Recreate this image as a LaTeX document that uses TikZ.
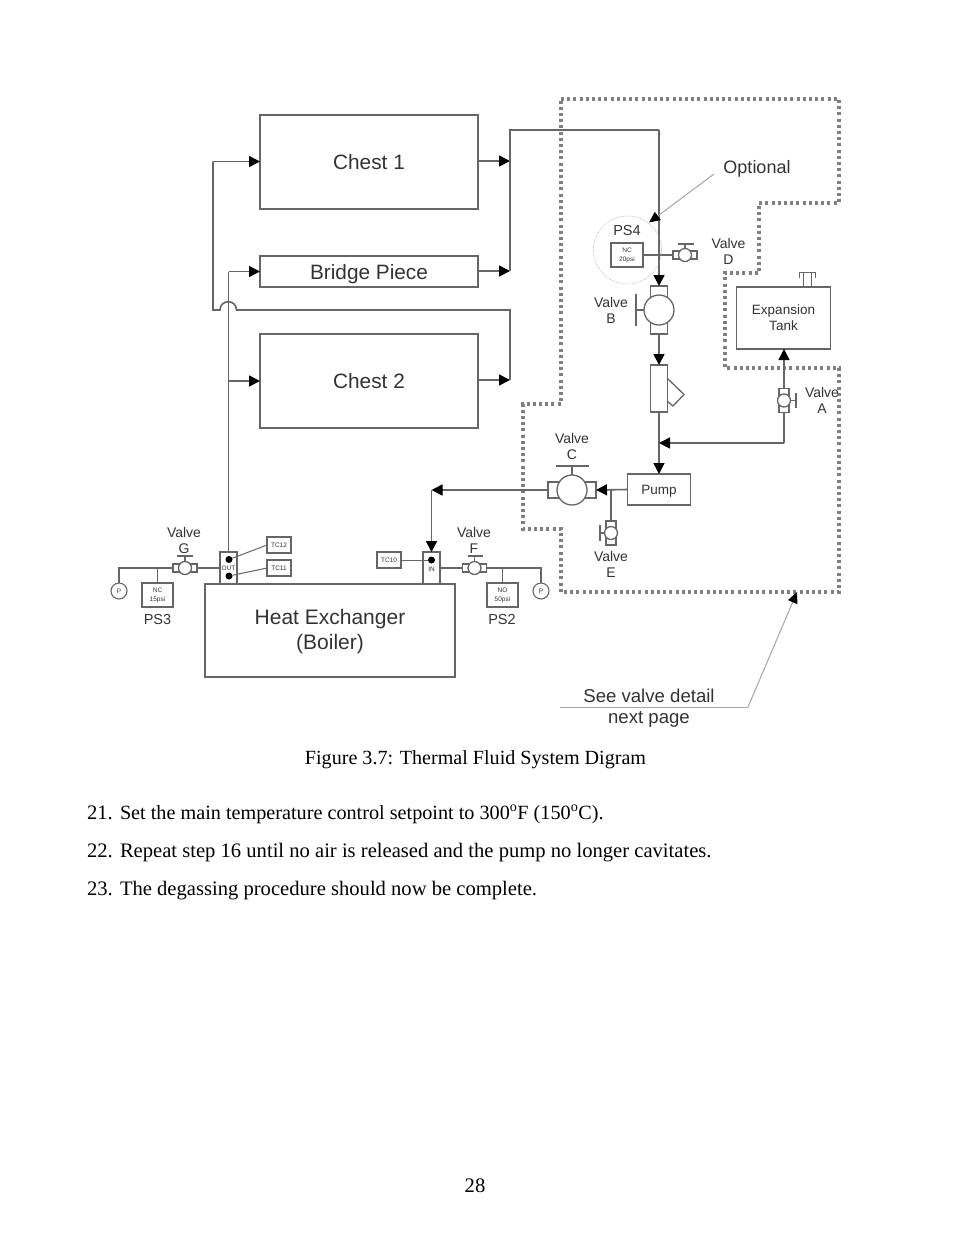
\documentclass[tikz,border=0pt]{standalone}
\usepackage{fontspec}
\setmainfont{Liberation Serif}
\newfontfamily\dgm{Liberation Sans}
\usetikzlibrary{arrows.meta}
\definecolor{ln}{HTML}{666666}
\definecolor{tx}{HTML}{333333}
\definecolor{dots}{HTML}{808080}
\newcommand{\fsz}[2]{\fontsize{#1}{#2}\selectfont}
\tikzset{
  x=1pt,y=-1pt,
  every node/.style={inner sep=0pt,outer sep=0pt},
  pipe/.style={draw=ln,line width=1.6pt},
  arr/.style={pipe,-{Triangle[length=11pt,width=11pt,fill=black,color=black]}},
  note/.style={draw=gray!70,line width=1pt},
  narr/.style={note,-{Triangle[length=11pt,width=10pt,fill=black,color=black]}},
  blk/.style={draw=ln,line width=1.3pt,fill=white,text=tx,font=\dgm},
  big/.style={blk,font=\dgm\fsz{20.8}{25},align=center},
  lbl/.style={text=tx,font=\dgm\fsz{14}{16},align=center},
  tiny/.style={blk,font=\dgm\fsz{6.5}{9},align=center,text=tx,line width=1.1pt},
  body/.style={font=\fsz{20.6}{23},text=black},
  bonnet/.style={circle,draw=ln,line width=1.3pt,fill=white},
  vbody/.style={draw=ln,line width=1.3pt,fill=white},
  dot/.style={circle,fill=black,minimum size=7pt},
  gauge/.style={circle,draw=ln,line width=1.1pt,fill=white,font=\dgm\fsz{6.5}{7},text=tx,minimum size=16pt},
  border/.style={draw=dots,line width=3.2pt,dash pattern=on 3pt off 3.2pt},
}
\begin{document}
\begin{tikzpicture}
\useasboundingbox (0,0) rectangle (954,1235);
\fill[white] (0,0) rectangle (954,1235);

% dotted enclosure
\coordinate (d1) at (561,99);\coordinate (d2) at (839,99);\coordinate (d3) at (839,203);
\coordinate (d4) at (759,203);\coordinate (d5) at (759,273);\coordinate (d6) at (725,273);
\coordinate (d7) at (725,368);\coordinate (d8) at (839,368);\coordinate (d9) at (839,592);
\coordinate (d10) at (561,592);\coordinate (d11) at (561,529);\coordinate (d12) at (523,529);
\coordinate (d13) at (523,404);\coordinate (d14) at (561,404);
\draw[border] (d1)--(d2)--(d3)--(d4)--(d5)--(d6)--(d7)--(d8)--(d9)--(d10)--(d11)--(d12)--(d13)--(d14)--cycle;

% main blocks
\node[big,minimum width=218,minimum height=94] (chest1) at (369,162) {Chest 1};
\node[big,text depth=0pt,minimum width=218,minimum height=31] (bridge) at (369,271.5) {Bridge Piece};
\node[big,minimum width=218,minimum height=94] (chest2) at (369,381) {Chest 2};
\node[blk,minimum width=250,minimum height=93] (hx) at (330,630.5) {};
\node[font=\dgm\fsz{21}{25},text=tx,align=center] (hxt) at (330,631.5) {Heat Exchanger\\(Boiler)};
\node[blk,font=\dgm\fsz{13.5}{16},align=center,minimum width=94,minimum height=62] (tank) at (783.5,318) {Expansion\\Tank};
\node[blk,font=\dgm\fsz{13.5}{16},text depth=0pt,minimum width=63,minimum height=31] (pump) at (659,489.5) {Pump};
\node[vbody,minimum width=16.5,minimum height=47] (filter) at (659,388.5) {};
\node[blk,font=\dgm\fsz{6.5}{8},minimum width=17,minimum height=32,line width=1.1pt] (out) at (228.5,568) {OUT};
\node[blk,minimum width=17,minimum height=32,line width=1.1pt] (in) at (431.5,568) {};
\node[font=\dgm\fsz{6.5}{8},text=tx] (intxt) at (431.5,569) {IN};

% sensors
\node[tiny,minimum width=24,minimum height=16] (tc12) at (279,545) {TC12};
\node[tiny,minimum width=24,minimum height=16] (tc11) at (279,568) {TC11};
\node[tiny,minimum width=24,minimum height=16] (tc10) at (389,560) {TC10};
\node[tiny,minimum width=31,minimum height=24] (ps3) at (157.5,595) {NC\\15psi};
\node[tiny,minimum width=31,minimum height=24] (ps2) at (502.5,595) {NO\\50psi};
\node[tiny,minimum width=32,minimum height=24] (ps4) at (627,255) {NC\\20psi};
\node[gauge] (pl) at (119,591) {P};
\node[gauge] (pr) at (541,591) {P};
\node[dot] (dout1) at (229,559.5) {};
\node[dot] (dout2) at (229,576) {};
\node[dot] (din) at (431.5,560) {};

% junctions
\coordinate (jr1) at (510,161);\coordinate (jr2) at (510,271);\coordinate (jr3) at (510,380);
\coordinate (jtop) at (510,130);\coordinate (jtopr) at (659,130);
\coordinate (jl3) at (510,310);\coordinate (hopr) at (236.5,310);\coordinate (hopl) at (220,310);
\coordinate (hopcr) at (236.5,299);\coordinate (hopcl) at (220,299);
\coordinate (jl0) at (213,310);\coordinate (jl1) at (213,161.5);
\coordinate (jb) at (228.5,271.5);\coordinate (jc) at (228.5,381);
\coordinate (jin) at (431.5,490);
\coordinate (jm) at (659,443);\coordinate (ja) at (784,443);
\coordinate (je) at (611,490);

% valves: body and bonnet
\node[vbody,minimum width=17,minimum height=48] (vbb) at (659,310) {};
\node[bonnet,minimum size=30pt] (vbc) at (659,310) {};
\node[vbody,minimum width=48,minimum height=16] (vcb) at (572,490) {};
\node[bonnet,minimum size=30pt] (vcc) at (572,490) {};
\node[vbody,minimum width=24,minimum height=8] (vdb) at (685,255) {};
\node[bonnet,minimum size=13pt] (vdc) at (685,255) {};
\node[vbody,minimum width=24,minimum height=8] (vgb) at (185,568) {};
\node[bonnet,minimum size=13pt] (vgc) at (185,568) {};
\node[vbody,minimum width=24,minimum height=8] (vfb) at (474.5,568) {};
\node[bonnet,minimum size=13pt] (vfc) at (474.5,568) {};
\node[vbody,minimum width=10,minimum height=24] (vab) at (784,400.5) {};
\node[bonnet,minimum size=13pt] (vac) at (784,400.5) {};
\node[vbody,minimum width=10,minimum height=24] (veb) at (611,533) {};
\node[bonnet,minimum size=13pt] (vec) at (611,533) {};

% pipework
\draw[arr] (chest1.east|-jr1) -- (jr1);
\draw[arr] (bridge.east|-jr2) -- (jr2);
\draw[arr] (chest2.east|-jr3) -- (jr3);
\draw[pipe] (jr2) -- (jtop) -- (jtopr);
\draw[arr] (jtopr) -- (vbb.north);
\draw[arr] (vbb.south) -- (filter.north);
\draw[pipe] (filter.south) -- (jm);
\draw[arr] (jm) -- (pump.north);
\draw[pipe] (jr3) -- (jl3) -- (hopr) .. controls (hopcr) and (hopcl) .. (hopl) -- (jl0) -- (jl1);
\draw[arr] (jl1) -- (chest1.west|-jl1);
\draw[pipe] (out.north) -- (jb);
\draw[arr] (jb) -- (bridge.west);
\draw[arr] (jc) -- (chest2.west);
\draw[arr] (pump.west) -- (vcb.east);
\draw[pipe] (je) -- (veb.north);
\draw[arr] (vcb.west) -- (jin);
\draw[arr] (jin) -- (in.north);
\draw[arr] (vab.north) -- (tank.south-|vab);
\draw[pipe] (vab.south) -- (ja);
\draw[arr] (ja) -- (jm);
\draw[pipe] (ps4.east) -- (vdb.west);
\draw[pipe] (out.west|-vgb) -- (vgb.east);
\coordinate (jg) at (119,568);
\draw[pipe] (vgb.west) -- (jg) -- (pl.north);
\draw[pipe] (ps3.north) -- (ps3.north|-jg);
\coordinate (jf) at (541,568);
\draw[pipe] (in.east|-vfb) -- (vfb.west);
\draw[pipe] (vfb.east) -- (jf) -- (pr.north);
\draw[pipe] (ps2.north) -- (ps2.north|-jf);
\draw[pipe,line width=1pt] (dout1) -- (tc12.west);
\draw[pipe,line width=1pt] (dout2) -- (tc11.west);
\draw[pipe,line width=1pt] (din) -- (tc10.east);

% handles
\coordinate (hb1) at (635.5,294);\coordinate (hb2) at (635.5,326);\coordinate (hbm) at (635.5,310);
\draw[pipe,line width=2pt] (hb1) -- (hb2); \draw[pipe] (hbm) -- (vbc.west);
\coordinate (hc1) at (556,466);\coordinate (hc2) at (589,466);\coordinate (hcm) at (572,466);
\draw[pipe,line width=1.8pt] (hc1) -- (hc2); \draw[pipe] (hcm) -- (vcc.north);
\coordinate (hd1) at (678,244);\coordinate (hd2) at (694,244);\coordinate (hdm) at (685,244);
\draw[pipe,line width=1.2pt] (hd1) -- (hd2); \draw[pipe,line width=1.2pt] (hdm) -- (vdc.north);
\coordinate (hg1) at (177,556);\coordinate (hg2) at (193,556);\coordinate (hgm) at (185,556);
\draw[pipe,line width=1.2pt] (hg1) -- (hg2); \draw[pipe,line width=1.2pt] (hgm) -- (vgc.north);
\coordinate (hf1) at (468,556);\coordinate (hf2) at (483,556);\coordinate (hfm) at (474.5,556);
\draw[pipe,line width=1.2pt] (hf1) -- (hf2); \draw[pipe,line width=1.2pt] (hfm) -- (vfc.north);
\coordinate (ha1) at (796,393);\coordinate (ha2) at (796,408);\coordinate (ham) at (796,400.5);
\draw[pipe,line width=1.2pt] (ha1) -- (ha2); \draw[pipe,line width=1.2pt] (ham) -- (vac.east);
\coordinate (he1) at (600,525);\coordinate (he2) at (600,541);\coordinate (hem) at (600,533);
\draw[pipe,line width=1.2pt] (he1) -- (he2); \draw[pipe,line width=1.2pt] (hem) -- (vec.west);

% strainer leg
\coordinate (s1) at (667,378);\coordinate (s2) at (684,394.5);\coordinate (s3) at (673,406);\coordinate (s4) at (667,401);
\draw[pipe,line width=1.3pt] (s1) -- (s2) -- (s3) -- (s4);

% tank vent
\coordinate (v1) at (803,287);\coordinate (v2) at (803,272);\coordinate (v3) at (811,272);\coordinate (v4) at (811,287);
\coordinate (v5) at (799,278);\coordinate (v6) at (799,272);\coordinate (v7) at (815,272);\coordinate (v8) at (815,278);
\draw[pipe,line width=1pt] (v1) -- (v2);
\draw[pipe,line width=1pt] (v3) -- (v4);
\draw[pipe,line width=1pt] (v5) -- (v6) -- (v7) -- (v8);

% optional group
\node[circle,draw=gray!70,densely dotted,line width=0.6pt,minimum size=68pt] (grp) at (627.5,250) {};
\node[text=tx,font=\dgm\fsz{18}{21}] (opt) at (757,169) {Optional};
\coordinate (optfrom) at (714,174);\coordinate (optto) at (649,222.5);
\draw[narr] (optfrom) -- (optto);

% see valve detail
\node[text=tx,font=\dgm\fsz{18.6}{21},align=center] (see) at (649,708) {See valve detail\\next page};
\coordinate (s0) at (560,707);\coordinate (s5) at (748,707);\coordinate (s6) at (797,592);
\draw[note] (s0) -- (s5);
\draw[narr] (s5) -- (s6);

% labels
\node[lbl] (lg) at (184,540.5) {Valve\\G};
\node[lbl] (lf) at (474,540.5) {Valve\\F};
\node[lbl] (lc) at (572,446.5) {Valve\\C};
\node[lbl] (le) at (611,564) {Valve\\E};
\node[lbl] (la) at (822,400) {Valve\\A};
\node[lbl] (lb) at (611,310) {Valve\\B};
\node[lbl] (ld) at (728.5,251) {Valve\\D};
\node[lbl,font=\dgm\fsz{14.5}{16}] (l3) at (157.5,619) {PS3};
\node[lbl,font=\dgm\fsz{14.5}{16}] (l2) at (502,619) {PS2};
\node[lbl,font=\dgm\fsz{14.5}{16}] (l4) at (627,231) {PS4};

% page text
\node[body,font=\fsz{20.1}{23}] (cap) at (475.5,759.5) {Figure 3.7: Thermal Fluid System Digram};
\node[body,anchor=base west] (n21) at (87,819) {21.};
\node[body,anchor=base west,font=\fsz{20.2}{23}] (t21) at (120,819) {Set the main temperature control setpoint to 300\textsuperscript{o}F (150\textsuperscript{o}C).};
\node[body,anchor=base west] (n22) at (87,857) {22.};
\node[body,anchor=base west] (t22) at (120,857) {Repeat step 16 until no air is released and the pump no longer cavitates.};
\node[body,anchor=base west] (n23) at (87,895) {23.};
\node[body,anchor=base west] (t23) at (120,895) {The degassing procedure should now be complete.};
\node[body] (pg) at (475,1186) {28};
\end{tikzpicture}
\end{document}
